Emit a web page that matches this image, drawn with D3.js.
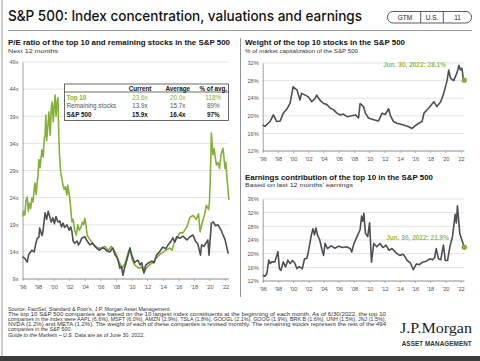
<!DOCTYPE html>
<html>
<head>
<meta charset="utf-8">
<script src="https://cdn.jsdelivr.net/npm/d3@7"></script>
<style>
  body { margin: 0; background: #fff; }
  svg { display: block; font-family: "Liberation Sans", Arial, sans-serif; }
</style>
</head>
<body>
<div id="chart"></div>
<script>
// ---- data ----
const xTickYears = [1996, 1998, 2000, 2002, 2004, 2006, 2008, 2010, 2012, 2014, 2016, 2018, 2020, 2022];
const xTickLabels = ["'96", "'98", "'00", "'02", "'04", "'06", "'08", "'10", "'12", "'14", "'16", "'18", "'20", "'22"];

const peTicks = [9, 14, 19, 24, 29, 34, 39, 44, 49];
const weightTicks = [12, 16, 20, 24, 28, 32];
const earnTicks = [12, 16, 20, 24, 28, 32, 36];

// P/E of top 10
const top10Dates = [1996.0, 1996.15, 1996.3, 1996.45, 1996.6, 1996.75, 1996.9, 1997.05, 1997.2, 1997.35, 1997.5, 1997.6, 1997.75, 1997.9,
  1998.0, 1998.1, 1998.25, 1998.4, 1998.5, 1998.65, 1998.8, 1998.9, 1999.0, 1999.1, 1999.25, 1999.4, 1999.55, 1999.7, 1999.8, 1999.95,
  2000.05, 2000.2, 2000.3, 2000.4, 2000.55, 2000.65, 2000.75, 2000.9, 2001.05, 2001.2, 2001.35, 2001.5, 2001.7, 2001.8, 2001.95,
  2002.1, 2002.25, 2002.35, 2002.5, 2002.7, 2002.9, 2003.1, 2003.3, 2003.5, 2003.7, 2003.85, 2004.0, 2004.15, 2004.3, 2004.45, 2004.9,
  2005.3, 2005.7, 2006.1, 2006.6, 2007.0, 2007.4, 2007.9, 2008.3, 2008.8, 2009.2, 2009.6, 2009.8, 2010.1, 2010.4, 2010.9, 2011.3,
  2011.6, 2011.9, 2012.3, 2012.7, 2013.2, 2013.6, 2014.1, 2014.5, 2014.9, 2015.2, 2015.5, 2015.8, 2016.2, 2016.6, 2017.1, 2017.5,
  2017.9, 2018.3, 2018.6, 2018.8, 2019.1, 2019.4, 2019.6, 2019.9, 2020.0, 2020.1, 2020.25, 2020.45, 2020.6, 2020.9, 2021.1, 2021.3,
  2021.5, 2021.75, 2022.0, 2022.1, 2022.3, 2022.5];
const top10PE = [20.5, 21.5, 20.8, 23.5, 24.1, 21.5, 23.0, 22.0, 23.9, 23.2, 25.5, 26.7, 24.6, 27.0,
  28.2, 31.0, 29.5, 31.5, 32.8, 31.5, 35.0, 35.5, 39.2, 34.5, 37.0, 39.8, 35.5, 40.5, 41.6, 38.0,
  40.5, 42.9, 39.0, 41.0, 42.4, 36.0, 32.0, 28.7, 27.5, 26.3, 25.5, 26.0, 24.5, 26.3, 25.0,
  23.5, 21.0, 19.5, 20.0, 18.0, 17.1, 19.0, 18.0, 18.5, 19.5, 19.0, 20.2, 19.0, 17.1, 16.7, 15.8,
  15.1, 14.7, 14.7, 15.0, 14.3, 15.0, 14.0, 12.5, 11.0, 12.0, 14.0, 14.7, 12.5, 11.6, 11.0, 11.2,
  10.2, 11.0, 11.6, 12.0, 12.9, 13.5, 14.0, 14.4, 14.7, 14.3, 15.8, 16.4, 17.5, 17.5, 18.6, 20.4,
  20.7, 20.0, 21.0, 17.7, 19.5, 21.0, 22.6, 21.8, 23.2, 26.9, 35.9, 31.9, 33.0, 30.0, 30.5, 29.4,
  32.0, 33.1, 29.4, 30.5, 26.9, 23.6];

// P/E of remaining stocks
const restDates = [1996.0, 1996.3, 1996.6, 1996.8, 1997.2, 1997.5, 1997.7, 1997.9, 1998.1, 1998.2, 1998.5, 1998.6, 1998.9,
  1999.1, 1999.3, 1999.5, 1999.7, 1999.9, 2000.1, 2000.3, 2000.55, 2000.8, 2001.0, 2001.2, 2001.4, 2001.7, 2002.0, 2002.2,
  2002.35, 2002.5, 2002.7, 2003.0, 2003.2, 2003.4, 2003.6, 2004.0, 2004.3, 2004.65, 2005.0, 2005.3, 2005.6, 2005.9, 2006.3,
  2006.6, 2006.9, 2007.2, 2007.6, 2007.9, 2008.2, 2008.5, 2008.7, 2008.9, 2009.1, 2009.4, 2009.8, 2010.0, 2010.4, 2010.8,
  2011.1, 2011.3, 2011.6, 2011.8, 2012.1, 2012.6, 2012.9, 2013.2, 2013.6, 2014.0, 2014.4, 2014.7, 2015.0, 2015.3, 2015.55,
  2015.8, 2016.2, 2016.6, 2017.1, 2017.5, 2017.9, 2018.2, 2018.5, 2018.85, 2019.0, 2019.3, 2019.5, 2019.8, 2019.95, 2020.25,
  2020.5, 2020.8, 2021.1, 2021.5, 2021.75, 2022.0, 2022.2, 2022.4, 2022.5];
const restPE = [13.1, 12.8, 12.1, 13.5, 14.3, 14.0, 15.5, 16.5, 16.7, 18.4, 17.0, 17.5, 21.2,
  20.0, 21.5, 20.5, 19.5, 20.3, 19.2, 20.5, 19.5, 19.7, 18.6, 19.3, 18.5, 19.0, 18.0, 18.6,
  17.7, 16.0, 15.6, 16.0, 15.3, 15.8, 16.5, 16.8, 16.0, 15.3, 15.6, 15.0, 14.6, 14.3, 14.8,
  14.5, 14.1, 14.0, 14.7, 13.4, 12.8, 11.0, 11.3, 9.7, 11.0, 12.5, 14.7, 13.5, 12.0, 12.5,
  11.6, 12.0, 10.1, 11.5, 11.9, 12.3, 12.0, 13.4, 14.0, 14.9, 14.6, 15.3, 15.8, 16.6, 15.8,
  16.8, 16.5, 16.9, 16.2, 16.8, 17.1, 16.0, 15.5, 13.4, 15.3, 15.0, 15.5, 16.2, 13.4, 19.3,
  19.5, 18.8, 19.0, 18.0, 17.1, 16.3, 15.0, 13.8, 13.9];

// Weight of top 10 in S&P 500 (%)
const weightDates = [1996.0, 1996.3, 1996.96, 1997.4, 1997.85, 1998.3, 1998.7, 1999.2, 1999.6, 1999.8, 2000.0, 2000.5, 2000.9,
  2001.1, 2001.6, 2002.0, 2002.45, 2002.9, 2003.1, 2003.5, 2004.0, 2004.4, 2004.9, 2005.3, 2005.75, 2006.2, 2006.6, 2007.1,
  2007.7, 2008.2, 2008.6, 2008.8, 2009.25, 2009.5, 2009.9, 2010.6, 2011.2, 2011.7, 2012.1, 2012.55, 2012.8, 2013.2, 2013.65,
  2014.5, 2015.2, 2015.6, 2016.1, 2016.5, 2016.95, 2017.2, 2017.8, 2018.5, 2018.9, 2019.4, 2019.8, 2020.25, 2020.45, 2020.7,
  2021.1, 2021.55, 2021.8, 2022.0, 2022.2, 2022.35, 2022.5];
const weightValues = [17.9, 17.6, 18.7, 20.2, 18.7, 18.8, 20.6, 21.6, 22.9, 24.7, 26.6, 25.9, 23.6,
  25.1, 24.7, 24.3, 23.2, 24.0, 24.7, 23.6, 22.8, 22.6, 21.7, 21.4, 20.6, 20.2, 20.4, 19.8,
  20.0, 20.2, 19.5, 22.8, 22.1, 20.6, 19.5, 19.1, 18.8, 20.6, 20.3, 21.6, 20.0, 18.7, 18.3,
  17.9, 17.5, 17.1, 17.8, 18.3, 18.7, 20.6, 21.7, 23.2, 22.1, 23.2, 25.1, 28.1, 30.4, 28.5,
  28.0, 29.8, 31.5, 30.4, 30.8, 28.5, 28.1];

// Earnings contribution of top 10 (%)
const earnDates = [1996.0, 1996.3, 1996.55, 1996.8, 1997.0, 1997.2, 1997.6, 1998.0, 1998.2, 1998.4, 1998.7, 1999.0, 1999.3,
  1999.6, 1999.9, 2000.2, 2000.5, 2000.8, 2001.2, 2001.5, 2001.8, 2002.0, 2002.2, 2002.4, 2002.6, 2002.8, 2003.0, 2003.2,
  2003.5, 2003.8, 2004.0, 2004.2, 2004.5, 2005.0, 2005.5, 2006.0, 2006.5, 2007.0, 2007.5, 2007.7, 2008.0, 2008.5, 2008.8,
  2009.0, 2009.15, 2009.3, 2009.5, 2009.8, 2010.05, 2010.3, 2010.6, 2011.0, 2011.4, 2011.8, 2012.2, 2012.6, 2013.0, 2013.5,
  2014.0, 2014.5, 2015.0, 2015.4, 2015.8, 2016.2, 2016.6, 2017.0, 2017.5, 2018.0, 2018.3, 2018.6, 2018.8, 2019.1, 2019.4,
  2019.75, 2020.0, 2020.3, 2020.6, 2020.95, 2021.3, 2021.45, 2021.6, 2021.9, 2022.1, 2022.5];
const earnValues = [13.7, 13.4, 14.2, 18.1, 17.1, 17.6, 17.6, 20.6, 15.6, 15.1, 17.6, 16.1, 18.1,
  17.1, 18.0, 17.3, 15.6, 16.2, 15.6, 18.5, 18.6, 20.5, 23.0, 25.5, 27.3, 25.5, 27.5, 25.5,
  24.0, 21.0, 19.5, 23.0, 21.5, 22.3, 21.6, 22.2, 21.8, 22.0, 21.5, 20.5, 23.0, 25.5, 27.0,
  31.0, 29.5, 31.8, 26.0, 25.0, 29.0, 17.5, 23.0, 22.0, 23.0, 21.8, 22.5, 21.0, 21.5, 20.3,
  19.5, 19.8, 18.0, 17.3, 15.3, 17.0, 16.8, 17.5, 17.8, 18.5, 18.2, 18.8, 21.5, 18.5, 18.2,
  22.5, 18.0, 18.0, 22.0, 25.0, 31.5, 29.0, 34.0, 26.0, 24.5, 21.9];

// summary table
const tableHeaders = ["Current", "Average", "% of avg."];
const tableRows = ["Top 10", "Remaining stocks", "S&P 500"];
const tableValues = [["23.6x", "20.0x", "118%"], ["13.9x", "15.7x", "89%"], ["15.9x", "16.4x", "97%"]];

const footnotes = [
  "Source: FactSet, Standard & Poor's, J.P. Morgan Asset Management.",
  "The top 10 S&P 500 companies are based on the 10 largest index constituents at the beginning of each month. As of 6/30/2022, the top 10",
  "companies in the index were AAPL (6.6%), MSFT (6.0%), AMZN (2.9%), TSLA (1.8%), GOOGL (2.1%), GOOG (1.9%), BRK.B (1.6%), UNH (1.5%), JNJ (1.5%),",
  "NVDA (1.2%) and META (1.2%). The weight of each of these companies is revised monthly. The remaining stocks represent the rest of the 494",
  "companies in the S&P 500."
];

// ---- styles ----
const green = "#84b135";
const dark = "#4d4f53";
const gridColor = "#dcdcdc";
const axisText = "#555";

const W = 480, H = 361;
const svg = d3.select("#chart").append("svg").attr("width", W).attr("height", H);

// frame
svg.append("line").attr("x1", 2).attr("x2", 2).attr("y1", 0).attr("y2", 356)
  .attr("stroke", "#9a9a9a").attr("stroke-width", 1);
svg.append("rect").attr("x", 0).attr("y", 356).attr("width", W).attr("height", 5).attr("fill", "#3c3c3c");

// title
svg.append("text").attr("x", 8).attr("y", 20.5)
  .attr("font-family", "Inter, Roboto, sans-serif").attr("font-size", 14.5).attr("font-weight", 500)
  .attr("fill", "#111").attr("textLength", 354).attr("lengthAdjust", "spacingAndGlyphs")
  .text("S&P 500: Index concentration, valuations and earnings");

// GTM badge
const badge = svg.append("g");
badge.append("rect").attr("x", 387.5).attr("y", 11.5).attr("width", 84).attr("height", 11.5).attr("rx", 5.5)
  .attr("fill", "none").attr("stroke", "#333").attr("stroke-width", 0.8);
[420.7, 443.3].forEach(x => badge.append("line").attr("x1", x).attr("x2", x).attr("y1", 11.5).attr("y2", 23)
  .attr("stroke", "#333").attr("stroke-width", 0.8));
[["GTM", 405], ["U.S.", 432], ["11", 457.5]].forEach(([t, x]) =>
  badge.append("text").attr("x", x).attr("y", 19.8).attr("text-anchor", "middle")
    .attr("font-size", 6.5).attr("fill", "#222").text(t));

svg.append("line").attr("x1", 8).attr("x2", 472).attr("y1", 30.5).attr("y2", 30.5)
  .attr("stroke", "#9a9a9a").attr("stroke-width", 1);
svg.append("line").attr("x1", 240.5).attr("x2", 240.5).attr("y1", 38).attr("y2", 297)
  .attr("stroke", "#777").attr("stroke-width", 0.8);

function heading(x, y, title, sub, titleLen, subLen) {
  svg.append("text").attr("x", x).attr("y", y).attr("font-size", 7.8).attr("font-weight", "bold")
    .attr("fill", "#111").attr("textLength", titleLen).attr("lengthAdjust", "spacingAndGlyphs").text(title);
  svg.append("text").attr("x", x).attr("y", y + 7.5).attr("font-size", 6.2)
    .attr("fill", "#333").attr("textLength", subLen).attr("lengthAdjust", "spacingAndGlyphs").text(sub);
}
heading(8, 45, "P/E ratio of the top 10 and remaining stocks in the S&P 500", "Next 12 months", 222, 50);
heading(245, 45, "Weight of the top 10 stocks in the S&P 500", "% of market capitalization of the S&P 500", 160, 113);
heading(245, 179.5, "Earnings contribution of the top 10 in the S&P 500", "Based on last 12 months' earnings", 188, 108);

// generic panel
function panel(o) {
  const x = d3.scaleLinear().domain([1996, 2022]).range(o.xRange);
  const y = d3.scaleLinear().domain(o.yDomain).range(o.yRange);
  const g = svg.append("g");
  const xEnd = x(2022.5);

  g.append("g").selectAll("line").data(o.yTicks).join("line")
    .attr("x1", o.xRange[0]).attr("x2", xEnd)
    .attr("y1", d => y(d)).attr("y2", d => y(d))
    .attr("stroke", gridColor).attr("stroke-width", 0.8);

  const ya = g.append("g").attr("transform", `translate(${o.xRange[0]},0)`)
    .call(d3.axisLeft(y).tickValues(o.yTicks).tickSize(0).tickPadding(4).tickFormat(o.yFmt));
  ya.select(".domain").attr("stroke", "#888").attr("stroke-width", 0.8);
  ya.selectAll("text").attr("font-size", 5.6).attr("fill", axisText).attr("font-family", "Liberation Sans, Arial, sans-serif");

  const xa = g.append("g").attr("transform", `translate(0,${o.yRange[0]})`)
    .call(d3.axisBottom(x).tickValues(xTickYears).tickSize(2).tickPadding(4)
      .tickFormat((d, i) => xTickLabels[i]));
  xa.select(".domain").attr("d", `M${o.xRange[0]},0H${xEnd}`).attr("stroke", "#888").attr("stroke-width", 0.8);
  xa.selectAll("line").attr("stroke", "#888").attr("stroke-width", 0.6);
  xa.selectAll("text").attr("font-size", 5.6).attr("fill", axisText).attr("font-family", "Liberation Sans, Arial, sans-serif");

  const line = d3.line().x(d => x(d[0])).y(d => y(d[1]));
  o.series.forEach(s => {
    g.append("path").datum(d3.zip(s.dates, s.values)).attr("d", line)
      .attr("fill", "none").attr("stroke", s.color).attr("stroke-width", 1.6).attr("stroke-linejoin", "round");
  });

  if (o.marker) {
    const s = o.series[0];
    const last = s.values.length - 1;
    g.append("circle").attr("cx", x(s.dates[last])).attr("cy", y(s.values[last])).attr("r", 2.7).attr("fill", green);
    g.append("text").attr("x", o.marker.x).attr("y", o.marker.y).attr("text-anchor", "end")
      .attr("font-size", 6.5).attr("font-weight", "bold").attr("fill", "#9bbd45")
      .text(`Jun. 30, 2022: ${s.values[last].toFixed(1)}%`);
  }
  return { x, y };
}

panel({
  xRange: [22.5, 225], yDomain: [9, 49], yRange: [279, 62], yTicks: peTicks, yFmt: d => d + "x",
  series: [
    { dates: top10Dates, values: top10PE, color: green },
    { dates: restDates, values: restPE, color: dark }
  ]
});

panel({
  xRange: [262.7, 460.5], yDomain: [12, 32], yRange: [151, 63], yTicks: weightTicks, yFmt: d => d + "%",
  series: [{ dates: weightDates, values: weightValues, color: dark }],
  marker: { x: 446, y: 67 }
});

panel({
  xRange: [262.7, 460.5], yDomain: [12, 36], yRange: [281, 199], yTicks: earnTicks, yFmt: d => d + "%",
  series: [{ dates: earnDates, values: earnValues, color: dark }],
  marker: { x: 449, y: 240 }
});

// summary table
const tb = svg.append("g");
tb.append("rect").attr("x", 64.5).attr("y", 84).attr("width", 164).attr("height", 36.5)
  .attr("fill", "#fff").attr("stroke", "#444").attr("stroke-width", 0.8);
tb.append("line").attr("x1", 64.5).attr("x2", 228.5).attr("y1", 92).attr("y2", 92)
  .attr("stroke", "#444").attr("stroke-width", 0.8);
const colX = [140, 177.7, 213.3];
tableHeaders.forEach((h, i) => tb.append("text").attr("x", colX[i]).attr("y", 90.5).attr("text-anchor", "middle")
  .attr("font-size", 6.3).attr("font-weight", "bold").attr("fill", "#111").text(h));
const rowY = [99.5, 108.3, 117.2];
const rowStyle = [{ fill: green, weight: "normal" }, { fill: "#555", weight: "normal" }, { fill: "#111", weight: "bold" }];
tableRows.forEach((r, i) => {
  tb.append("text").attr("x", 66.5).attr("y", rowY[i]).attr("font-size", 6.3)
    .attr("font-weight", i === 0 ? "bold" : rowStyle[i].weight).attr("fill", rowStyle[i].fill).text(r);
  tableValues[i].forEach((v, j) => tb.append("text").attr("x", colX[j]).attr("y", rowY[i]).attr("text-anchor", "middle")
    .attr("font-size", 6.3).attr("font-weight", rowStyle[i].weight).attr("fill", rowStyle[i].fill).text(v));
});

// footnotes
const fnY = [310.8, 315.9, 321.0, 326.1, 331.2];
footnotes.forEach((t, i) => {
  const tx = svg.append("text").attr("x", 8).attr("y", fnY[i]).attr("font-size", 5.3).attr("fill", "#333").text(t);
  if (i >= 1 && i <= 3) tx.attr("textLength", 378).attr("lengthAdjust", "spacingAndGlyphs");
});
const last = svg.append("text").attr("x", 8).attr("y", 336.8).attr("font-size", 5.3).attr("fill", "#333");
last.append("tspan").attr("font-style", "italic").text("Guide to the Markets – U.S.");
last.append("tspan").text(" Data are as of June 30, 2022.");

// logo
svg.append("text").attr("x", 472).attr("y", 332.7).attr("text-anchor", "end")
  .attr("font-family", "Liberation Serif, Times New Roman, serif").attr("font-size", 15.5).attr("fill", "#222")
  .attr("textLength", 72).attr("lengthAdjust", "spacingAndGlyphs").text("J.P.Morgan");
svg.append("text").attr("x", 401.7).attr("y", 345.5)
  .attr("font-size", 6.3).attr("font-weight", "bold").attr("fill", "#333")
  .attr("textLength", 70).attr("lengthAdjust", "spacing").text("ASSET MANAGEMENT");
</script>
</body>
</html>
